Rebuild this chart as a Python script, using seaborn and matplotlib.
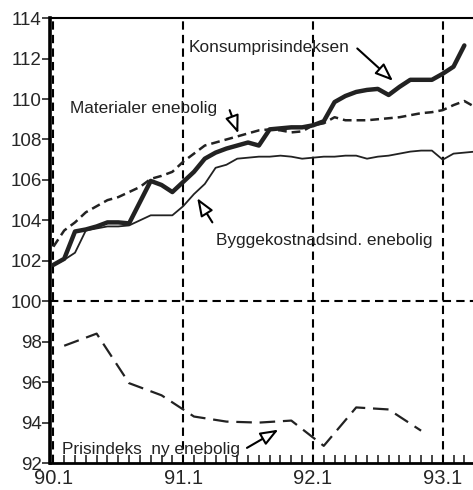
import numpy as np
import pandas as pd
import seaborn as sns
import matplotlib.pyplot as plt

# months counted from 90.1 (0) onward
kpi = [101.8, 102.1, 103.45, 103.55, 103.7, 103.9, 103.9, 103.85, 104.9, 105.95,
       105.75, 105.4, 105.9, 106.4, 107.05, 107.35, 107.55, 107.7, 107.85, 107.7,
       108.5, 108.55, 108.6, 108.6, 108.7, 108.9, 109.85, 110.15, 110.35, 110.45,
       110.5, 110.2, 110.6, 110.95, 110.95, 110.95, 111.25, 111.6, 112.65]
materialer = [102.7, 103.5, 103.9, 104.4, 104.7, 105.0, 105.15, 105.4, 105.65, 106.05,
              106.2, 106.4, 106.9, 107.3, 107.7, 107.85, 108.0, 108.15, 108.3, 108.45,
              108.5, 108.45, 108.35, 108.4, 108.7, 108.8, 109.1, 108.95, 108.95, 108.95,
              109.0, 109.05, 109.1, 109.2, 109.3, 109.35, 109.45, 109.7, 109.9, 109.6]
bygge = [101.8, 102.05, 102.4, 103.5, 103.6, 103.7, 103.7, 103.75, 104.0, 104.25,
         104.25, 104.25, 104.7, 105.3, 105.8, 106.6, 106.75, 107.05, 107.1, 107.15,
         107.15, 107.2, 107.15, 107.05, 107.1, 107.15, 107.15, 107.2, 107.2, 107.05,
         107.15, 107.2, 107.3, 107.4, 107.45, 107.45, 107.0, 107.3, 107.35, 107.4]
ny_months = [1, 4, 7, 10, 13, 16, 19, 22, 25, 28, 31, 34]
ny_enebolig = [97.8, 98.4, 95.95, 95.35, 94.3, 94.05, 94.0, 94.1, 92.85, 94.75, 94.65, 93.6]

year_ticks = [0, 12, 24, 36]
year_labels = ["90.1", "91.1", "92.1", "93.1"]

sns.set_style("white")
plt.rcParams['font.family'] = ['Liberation Sans', 'DejaVu Sans']

fig = plt.figure(figsize=(4.73, 4.90), dpi=100)
ax = fig.add_axes([0.106, 0.055, 0.894, 0.908])

df_kpi = pd.DataFrame({"m": range(len(kpi)), "v": kpi})
df_mat = pd.DataFrame({"m": range(len(materialer)), "v": materialer})
df_byg = pd.DataFrame({"m": range(len(bygge)), "v": bygge})
df_ny = pd.DataFrame({"m": ny_months, "v": ny_enebolig})

# dashed grid
for t in year_ticks:
    ax.axvline(t, color="black", lw=1.5, ls=(0, (4, 2.5)), zorder=1)
ax.axhline(100, color="black", lw=1.5, ls=(0, (4, 2.5)), zorder=1)

sns.lineplot(data=df_byg, x="m", y="v", ax=ax, color="#222222", lw=1.3, zorder=3)
sns.lineplot(data=df_mat, x="m", y="v", ax=ax, color="#222222", lw=1.8, zorder=3)
ax.lines[-1].set_linestyle((0, (3.5, 2)))
sns.lineplot(data=df_kpi, x="m", y="v", ax=ax, color="#222222", lw=3.2, zorder=4)
sns.lineplot(data=df_ny, x="m", y="v", ax=ax, color="#222222", lw=1.6, zorder=3)
ax.lines[-1].set_linestyle((0, (7, 3.5)))

ax.set_xlim(-0.3, 38.8)
ax.set_ylim(92, 114)
ax.set_xlabel("")
ax.set_ylabel("")
ax.set_yticks(np.arange(92, 115, 2))
ax.set_xticks(year_ticks)
ax.set_xticklabels(year_labels)
ax.set_xticks(np.arange(0, 39), minor=True)
ax.tick_params(axis="y", direction="out", length=6, width=1.2, pad=0, labelsize=13.5, left=True)
ax.tick_params(axis="x", which="major", direction="in", length=0, pad=4.5, labelsize=14.5, bottom=True)
ax.tick_params(axis="x", which="minor", direction="in", length=6, width=1.2, bottom=True)

for s in ["left", "bottom", "top"]:
    ax.spines[s].set_color("black")
ax.spines["left"].set_linewidth(2.6)
ax.spines["bottom"].set_linewidth(2.0)
ax.spines["top"].set_linewidth(1.5)
ax.spines["right"].set_visible(False)

txt = dict(fontsize=12.4, va="center", ha="left", color="#222222")
ax.text(12.5, 112.55, "Konsumprisindeksen", **txt)
ax.text(1.5, 109.55, "Materialer enebolig", **txt)
ax.text(15.0, 103.0, "Byggekostnadsind. enebolig", **txt)
ax.text(0.8, 92.68, "Prisindeks  ny enebolig", **txt)

arrow = dict(arrowstyle="-|>,head_length=0.9,head_width=0.35", fc="white", ec="black",
             lw=1.5, shrinkA=0, shrinkB=0, mutation_scale=12)
ax.annotate("", xy=(31.4, 110.9), xytext=(28.1, 112.5), arrowprops=arrow)
ax.annotate("", xy=(17.1, 108.3), xytext=(16.3, 109.45), arrowprops=arrow)
ax.annotate("", xy=(13.3, 105.1), xytext=(14.7, 103.9), arrowprops=arrow)
ax.annotate("", xy=(20.8, 93.65), xytext=(17.9, 92.75), arrowprops=arrow)

fig.savefig("out.png", dpi=100)
